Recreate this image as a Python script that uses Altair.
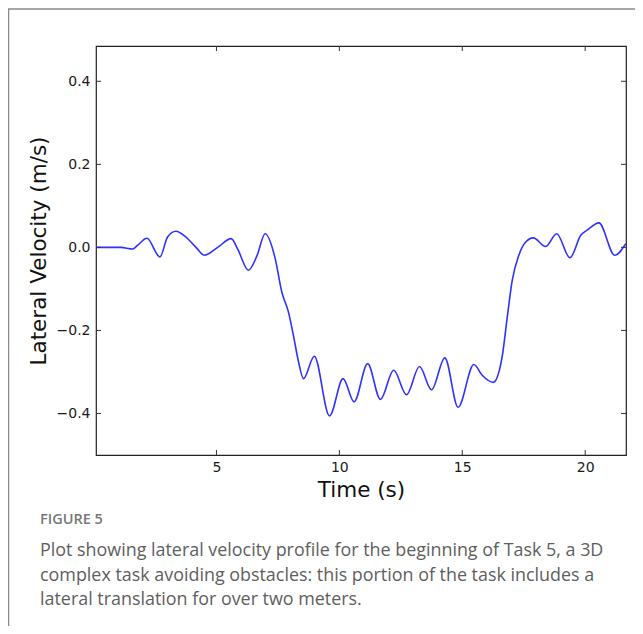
import altair as alt
import pandas as pd

# ---- data ----
time_s = [0.1, 0.6, 1.11, 1.59, 1.79, 2.17, 2.70, 3.01, 3.35, 3.76, 4.17, 4.51,
          5.05, 5.6, 5.87, 6.3, 6.65, 6.98, 7.39, 7.66, 7.93, 8.13, 8.34, 8.54,
          8.98, 9.6, 10.15, 10.6, 11.15, 11.67, 12.21, 12.73, 13.26, 13.75,
          14.29, 14.83, 15.47, 15.81, 16.26, 16.62, 16.83, 17.03, 17.3, 17.58,
          17.89, 18.39, 18.84, 19.38, 19.82, 20.11, 20.56, 21.2, 21.65]
lat_vel = [0.0, 0.0, 0.0, -0.004, 0.005, 0.022, -0.023, 0.025, 0.039, 0.025, 0.0, -0.019,
           0.0, 0.021, -0.005, -0.055, -0.02, 0.033, -0.027, -0.108, -0.156, -0.212, -0.276, -0.316,
           -0.262, -0.406, -0.316, -0.372, -0.280, -0.366, -0.296, -0.355, -0.287, -0.343,
           -0.266, -0.385, -0.282, -0.308, -0.325, -0.264, -0.168, -0.080, -0.019, 0.013,
           0.023, 0.002, 0.033, -0.025, 0.029, 0.043, 0.059, -0.019, 0.009]

x_ticks = [5, 10, 15, 20]
y_ticks = [-0.4, -0.2, 0.0, 0.2, 0.4]
x_domain = [0.1, 21.66]
y_domain = [-0.5, 0.485]

caption_head = "FIGURE 5"
caption_lines = [
    "Plot showing lateral velocity profile for the beginning of Task 5, a 3D",
    "complex task avoiding obstacles: this portion of the task includes a",
    "lateral translation for over two meters.",
]

W, H = 530, 409
TICK = 5

df = pd.DataFrame({"t": time_s, "v": lat_vel})
xs = alt.Scale(domain=x_domain, nice=False, zero=False)
ys = alt.Scale(domain=y_domain, nice=False, zero=False)

font = "DejaVu Sans"
x_axis = alt.Axis(values=x_ticks, format="d", grid=False, ticks=False, domain=False,
                  labelFont=font, labelFontSize=14, labelColor="#1a1a1a", labelPadding=5,
                  titleFont=font, titleFontSize=21.5, titleFontWeight="normal",
                  titleColor="#111", titlePadding=5)
y_axis = alt.Axis(values=y_ticks, format=".1f", grid=False, ticks=False, domain=False,
                  labelFont=font, labelFontSize=14, labelColor="#1a1a1a", labelPadding=6,
                  titleFont=font, titleFontSize=21.5, titleFontWeight="normal",
                  titleColor="#111", titlePadding=6)
X_TITLE = "Time (s)"
Y_TITLE = "Lateral Velocity (m/s)"

line = alt.Chart(df).mark_line(color="#3030ff", strokeWidth=1.6, interpolate="monotone").encode(
    x=alt.X("t:Q", scale=xs, title=X_TITLE, axis=x_axis),
    y=alt.Y("v:Q", scale=ys, title=Y_TITLE, axis=y_axis),
)

xt = pd.DataFrame({"t": x_ticks})
yt = pd.DataFrame({"v": y_ticks})
tick_style = dict(color="#333", strokeWidth=1)
xb = alt.Chart(xt).mark_rule(**tick_style).encode(
    x=alt.X("t:Q", scale=xs, title=X_TITLE, axis=x_axis), y=alt.value(H), y2=alt.value(H - TICK))
xtop = alt.Chart(xt).mark_rule(**tick_style).encode(
    x=alt.X("t:Q", scale=xs, title=X_TITLE, axis=x_axis), y=alt.value(0), y2=alt.value(TICK))
yl = alt.Chart(yt).mark_rule(**tick_style).encode(
    y=alt.Y("v:Q", scale=ys, title=Y_TITLE, axis=y_axis), x=alt.value(0), x2=alt.value(TICK))
yr = alt.Chart(yt).mark_rule(**tick_style).encode(
    y=alt.Y("v:Q", scale=ys, title=Y_TITLE, axis=y_axis), x=alt.value(W - TICK), x2=alt.value(W))

frame = alt.Chart(pd.DataFrame({"a": [0]})).mark_rect(
    fill=None, stroke="#8a8a8a", strokeWidth=1.5).encode(
    x=alt.value(-87.5), x2=alt.value(800), y=alt.value(-37), y2=alt.value(800))

head = alt.Chart(pd.DataFrame({"s": [caption_head]})).mark_text(
    align="left", baseline="alphabetic", font="Open Sans", fontSize=14.5, fontWeight=600,
    color="#777777").encode(text="s:N", x=alt.value(-56), y=alt.value(478))

caps = []
for i, s in enumerate(caption_lines):
    caps.append(alt.Chart(pd.DataFrame({"s": [s]})).mark_text(
        align="left", baseline="alphabetic", font="Open Sans", fontSize=17.9,
        color="#5e5e5e").encode(text="s:N", x=alt.value(-56), y=alt.value(510 + 24.5 * i)))

chart = alt.layer(frame, line, xb, xtop, yl, yr, head, *caps).properties(
    width=W, height=H,
    background="white",
    autosize=alt.AutoSizeParams(type="none"),
    padding={"left": 88, "top": 38, "right": 9, "bottom": 171},
).configure_view(stroke="#222", strokeWidth=1.2)

chart.save("out.html", embed_options={"renderer": "svg", "actions": False})
